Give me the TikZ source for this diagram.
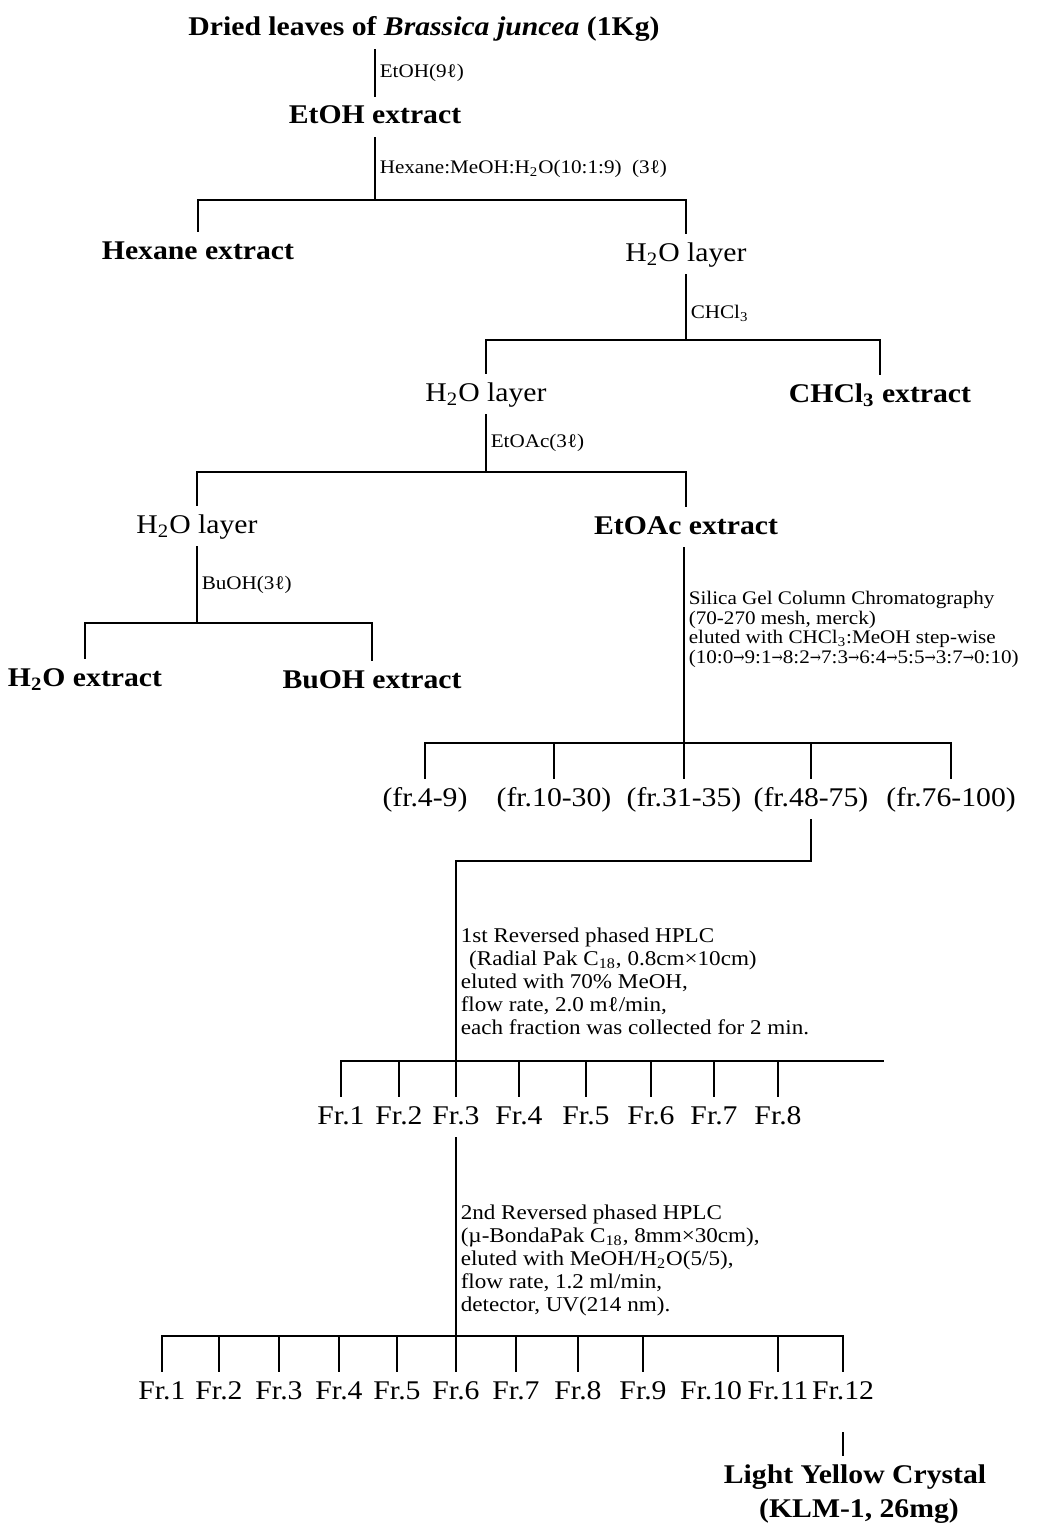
\documentclass[tikz,border=0pt]{standalone}
\usepackage{fontspec}
\setmainfont[FakeStretch=1.1]{Liberation Serif}
\newfontfamily\arrowfont{DejaVu Serif}
\usetikzlibrary{calc}
\newcommand\tightlines{\lineskiplimit=-20pt\relax}
\newcommand\stepto{\scalebox{.7}[.9]{\arrowfont →}}
\tikzset{
  conn/.style={line width=.8pt},
  hd/.style={font=\fontsize{13.5}{16}\selectfont\bfseries,text height=9.5pt,text depth=2.5pt,inner sep=4pt},
  lay/.style={font=\fontsize{13.5}{16}\selectfont,text height=9.5pt,text depth=2.5pt,inner sep=4pt},
  note/.style={anchor=west,align=left,inner sep=2pt,font={\fontsize{9.6}{9.8}\selectfont\tightlines}},
  wide/.style={note,font={\fontsize{10.5}{11.5}\selectfont\tightlines}}
}

\begin{document}
\begin{tikzpicture}[x=.5pt,y=-.5pt]
\useasboundingbox (0,0) rectangle (1063,1525);
\node[hd] (dried) at (424,29) {Dried leaves of \textit{Brassica juncea} (1Kg)};
\node[hd] (etoh) at (375,117) {EtOH extract};
\node[hd] (hexane) at (198,252) {Hexane extract};
\node[lay] (h2oA) at (686,254) {H\textsubscript{2}O layer};
\node[lay] (h2oB) at (486,394) {H\textsubscript{2}O layer};
\node[hd] (chcl) at (880,395) {CHCl\textsubscript{3} extract};
\node[lay] (h2oC) at (197,526) {H\textsubscript{2}O layer};
\node[hd] (etoac) at (686,527) {EtOAc extract};
\node[hd] (h2oext) at (85,679) {H\textsubscript{2}O extract};
\node[hd] (buoh) at (372,681) {BuOH extract};
\foreach \x/\t [count=\i] in {425/{(fr.4-9)},554/{(fr.10-30)},684/{(fr.31-35)},811/{(fr.48-75)},951/{(fr.76-100)}}
  \node[lay] (f\i) at (\x,799) {\t};
\foreach \x [count=\i] in {341,399,456,519,586,651,714,778}
  \node[lay] (g\i) at (\x,1117) {Fr.\i};
\foreach \x [count=\i] in {162,219,279,339,397,456,516,578,643,711,778,843}
  \node[lay] (h\i) at (\x,1392) {Fr.\i};
\node[hd] (crystal) at (855,1476) {Light Yellow Crystal};
\node[hd] (klm) at (859,1510) {(KLM-1, 26mg)};

\coordinate (b1) at (375,200);
\coordinate (b2) at (686,340);
\coordinate (b3) at (486,472);
\coordinate (b4) at (197,623);
\coordinate (b5) at (684,743);
\coordinate (t6) at (456,861);
\coordinate (b6) at (456,1061);
\coordinate (e6) at (884,1061);
\coordinate (b7) at (456,1336);

\draw[conn] (dried.south -| etoh) -- node[note]{EtOH(9ℓ)} (etoh.north);
\draw[conn] (etoh.south) -- node[note]{Hexane:MeOH:H\textsubscript{2}O(10:1:9)\ \ (3ℓ)} (b1);
\draw[conn] (hexane.north) |- (b1) -| (h2oA.north);
\draw[conn] (h2oA.south) -- node[note,pos=.6]{CHCl\textsubscript{3}} (b2);
\draw[conn] (h2oB.north) |- (b2) -| (chcl.north);
\draw[conn] (h2oB.south) -- node[note]{EtOAc(3ℓ)} (b3);
\draw[conn] (h2oC.north) |- (b3) -| (etoac.north);
\draw[conn] (h2oC.south) -- node[note]{BuOH(3ℓ)} (b4);
\draw[conn] (h2oext.north) |- (b4) -| (buoh.north);
\draw[conn] (etoac.south -| b5) -- node[note,pos=.42]{Silica Gel Column Chromatography\\(70-270 mesh, merck)\\eluted with CHCl\textsubscript{3}:MeOH step-wise\\(10:0\stepto9:1\stepto8:2\stepto7:3\stepto6:4\stepto5:5\stepto3:7\stepto0:10)} (b5);
\draw[conn] (f1.north) |- (b5) -| (f5.north);
\foreach \n in {f2,f3,f4} \draw[conn] (\n.north) -- (\n.north |- b5);
\draw[conn] (f4.south) |- (t6) -- node[wide,pos=.6]{1st Reversed phased HPLC\\\hspace{.4em}(Radial Pak C\textsubscript{18}, 0.8cm×10cm)\\eluted with 70\% MeOH,\\flow rate, 2.0 mℓ/min,\\each fraction was collected for 2 min.} (b6);
\draw[conn] (g1.north) |- (e6);
\foreach \i in {2,...,8} \draw[conn] (g\i.north) -- (g\i.north |- e6);
\draw[conn] (g3.south) -- node[wide,pos=.62]{2nd Reversed phased HPLC\\(µ-BondaPak C\textsubscript{18}, 8mm×30cm),\\eluted with MeOH/H\textsubscript{2}O(5/5),\\flow rate, 1.2 ml/min,\\detector, UV(214 nm).} (b7);
\draw[conn] (h1.north) |- (b7) -| (h12.north);
\foreach \i in {2,...,9,11} \draw[conn] (h\i.north) -- (h\i.north |- b7);
\draw[conn,shorten <=10pt] (h12.south) -- (h12.south |- crystal.north);
\end{tikzpicture}
\end{document}
